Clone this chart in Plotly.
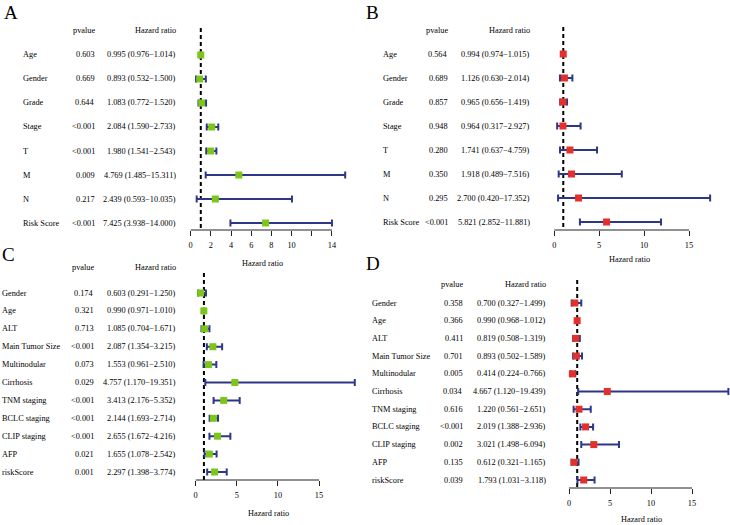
#!/usr/bin/env python3
"""
Forest plots of univariate / multivariate Cox regression (panels A-D).
"""

import plotly.graph_objects as go

# ---- Panel A: univariate, cohort 1 ----
a_labels = ['Age', 'Gender', 'Grade', 'Stage', 'T', 'M', 'N', 'Risk Score']
a_pvalue = ['0.603', '0.669', '0.644', '<0.001', '<0.001', '0.009', '0.217', '<0.001']
a_hr = [0.995, 0.893, 1.083, 2.084, 1.980, 4.769, 2.439, 7.425]
a_low = [0.976, 0.532, 0.772, 1.590, 1.541, 1.485, 0.593, 3.938]
a_high = [1.014, 1.500, 1.520, 2.733, 2.543, 15.311, 10.035, 14.000]
a_ticks = [0, 2, 4, 6, 8, 10, 12, 14]
a_ticktext = ['0', '2', '4', '6', '8', '10', '', '14']

# ---- Panel B: multivariate, cohort 1 ----
b_labels = ['Age', 'Gender', 'Grade', 'Stage', 'T', 'M', 'N', 'Risk Score']
b_pvalue = ['0.564', '0.689', '0.857', '0.948', '0.280', '0.350', '0.295', '<0.001']
b_hr = [0.994, 1.126, 0.965, 0.964, 1.741, 1.918, 2.700, 5.821]
b_low = [0.974, 0.630, 0.656, 0.317, 0.637, 0.489, 0.420, 2.852]
b_high = [1.015, 2.014, 1.419, 2.927, 4.759, 7.516, 17.352, 11.881]
b_ticks = [0, 5, 10, 15]

# ---- Panel C: univariate, cohort 2 ----
c_labels = ['Gender', 'Age', 'ALT', 'Main Tumor Size', 'Multinodular', 'Cirrhosis',
            'TNM staging', 'BCLC staging', 'CLIP staging', 'AFP', 'riskScore']
c_pvalue = ['0.174', '0.321', '0.713', '<0.001', '0.073', '0.029',
            '<0.001', '<0.001', '<0.001', '0.021', '0.001']
c_hr = [0.603, 0.990, 1.085, 2.087, 1.553, 4.757, 3.413, 2.144, 2.655, 1.655, 2.297]
c_low = [0.291, 0.971, 0.704, 1.354, 0.961, 1.170, 2.176, 1.693, 1.672, 1.078, 1.398]
c_high = [1.250, 1.010, 1.671, 3.215, 2.510, 19.351, 5.352, 2.714, 4.216, 2.542, 3.774]
c_ticks = [0, 5, 10, 15]

# ---- Panel D: multivariate, cohort 2 ----
d_labels = ['Gender', 'Age', 'ALT', 'Main Tumor Size', 'Multinodular', 'Cirrhosis',
            'TNM staging', 'BCLC staging', 'CLIP staging', 'AFP', 'riskScore']
d_pvalue = ['0.358', '0.366', '0.411', '0.701', '0.005', '0.034',
            '0.616', '<0.001', '0.002', '0.135', '0.039']
d_hr = [0.700, 0.990, 0.819, 0.893, 0.414, 4.667, 1.220, 2.019, 3.021, 0.612, 1.793]
d_low = [0.327, 0.968, 0.508, 0.502, 0.224, 1.120, 0.561, 1.388, 1.498, 0.321, 1.031]
d_high = [1.499, 1.012, 1.319, 1.589, 0.766, 19.439, 2.651, 2.936, 6.094, 1.165, 3.118]
d_ticks = [0, 5, 10, 15]

W, H = 730, 525
FONT = 'Liberation Serif, Times New Roman, serif'
FS = 8.3
NAVY = '#2E3786'
GREEN = '#7BC618'
RED = '#E3302A'


def xp(px):
    return px / W


def yp(py):
    return 1 - py / H


# layout geometry of every panel (pixels)
panels = [
    dict(letter='A', lx=2, ly=9, labels=a_labels, pv=a_pvalue, hr=a_hr, lo=a_low, hi=a_high,
         ticks=a_ticks, ticktext=a_ticktext, color=GREEN,
         label_x=21, pv_x=97, hrt_x=178, head_y=31, row0=55, step=24, axis_y=230,
         dash_top=28, x0=190.7, ppu=10.09, dom=(180, 360), title=(262, 263)),
    dict(letter='B', lx=364, ly=9, labels=b_labels, pv=b_pvalue, hr=b_hr, lo=b_low, hi=b_high,
         ticks=b_ticks, ticktext=None, color=RED,
         label_x=381, pv_x=450, hrt_x=532, head_y=31, row0=54, step=24, axis_y=230,
         dash_top=27, x0=554.3, ppu=8.98, dom=(545, 725), title=(629, 259)),
    dict(letter='C', lx=0, ly=254, labels=c_labels, pv=c_pvalue, hr=c_hr, lo=c_low, hi=c_high,
         ticks=c_ticks, ticktext=None, color=GREEN,
         label_x=0, pv_x=96, hrt_x=178, head_y=267, row0=293, step=17.9, axis_y=480,
         dash_top=273, x0=195.7, ppu=8.22, dom=(185, 365), title=(268, 513)),
    dict(letter='D', lx=364, ly=263, labels=d_labels, pv=d_pvalue, hr=d_hr, lo=d_low, hi=d_high,
         ticks=d_ticks, ticktext=None, color=RED,
         label_x=370, pv_x=465, hrt_x=548, head_y=284, row0=303, step=17.7, axis_y=488,
         dash_top=280, x0=569, ppu=8.2, dom=(560, 730), title=(641, 519)),
]

fig = go.Figure()
annotations = []
shapes = []


def text(x, y, s, anchor='left', yref='paper', size=FS, yanchor='middle'):
    annotations.append(dict(x=x, y=y, xref='paper', yref=yref, text=s, showarrow=False,
                            xanchor=anchor, yanchor=yanchor,
                            font=dict(family=FONT, size=size, color='black')))


for i, p in enumerate(panels, start=1):
    sfx = '' if i == 1 else str(i)
    n = len(p['labels'])
    rows = list(range(n))

    # pixel -> row-index mapping for y axis
    top_px = p['dash_top'] - 8
    k_bottom = (p['axis_y'] - p['row0']) / p['step']
    k_top = (top_px - p['row0']) / p['step']
    x_lo = (p['dom'][0] - p['x0']) / p['ppu']
    x_hi = (p['dom'][1] - p['x0']) / p['ppu']

    fig.add_trace(go.Scatter(
        x=p['hr'], y=rows, mode='markers',
        marker=dict(symbol='square', size=7, color=p['color']),
        error_x=dict(type='data', symmetric=False,
                     array=[h - m for h, m in zip(p['hi'], p['hr'])],
                     arrayminus=[m - l for m, l in zip(p['hr'], p['lo'])],
                     color=NAVY, thickness=2, width=3.5),
        xaxis='x' + sfx, yaxis='y' + sfx, showlegend=False, hoverinfo='skip'))

    fig.layout['xaxis' + sfx] = dict(
        domain=[xp(p['dom'][0]), xp(p['dom'][1])], range=[x_lo, x_hi],
        anchor='y' + sfx, showgrid=False, zeroline=False, showline=False,
        ticks='outside', ticklen=5, tickwidth=1, tickcolor='#222',
        tickvals=p['ticks'], ticktext=p['ticktext'] or [str(t) for t in p['ticks']],
        tickfont=dict(family=FONT, size=FS, color='black'), ticklabelstandoff=2)
    fig.layout['yaxis' + sfx] = dict(
        domain=[yp(p['axis_y']), yp(top_px)], range=[k_bottom, k_top],
        anchor='x' + sfx, visible=False)

    # axis line spanning only the tick range
    shapes.append(dict(type='line', xref='x' + sfx, yref='y' + sfx + ' domain',
                       x0=0, x1=p['ticks'][-1], y0=0, y1=0,
                       line=dict(color='#222', width=1)))
    # reference line at HR = 1
    shapes.append(dict(type='line', xref='x' + sfx, yref='y' + sfx,
                       x0=1, x1=1, y0=(p['dash_top'] - p['row0']) / p['step'], y1=k_bottom,
                       line=dict(color='black', width=2, dash='4px,3px'), layer='below'))

    # panel letter and column headers
    if p['ly'] < 15:
        text(xp(p['lx']), 1, p['letter'], size=19, yanchor='top')
    else:
        text(xp(p['lx']), yp(p['ly']), p['letter'], size=19)
    text(xp(p['pv_x']), yp(p['head_y']), 'pvalue', anchor='right')
    text(xp(p['hrt_x']), yp(p['head_y']), 'Hazard ratio', anchor='right')
    annotations.append(dict(x=xp(p['title'][0]), y=yp(p['title'][1]), xref='paper', yref='paper',
                            text='Hazard ratio', showarrow=False, xanchor='center', yanchor='middle',
                            font=dict(family=FONT, size=FS, color='black')))

    # table text for each row
    for k in rows:
        text(xp(p['label_x']), k, p['labels'][k], yref='y' + sfx)
        text(xp(p['pv_x']), k, p['pv'][k], anchor='right', yref='y' + sfx)
        hr_txt = f"{p['hr'][k]:.3f} ({p['lo'][k]:.3f}\u2212{p['hi'][k]:.3f})"
        text(xp(p['hrt_x']), k, hr_txt, anchor='right', yref='y' + sfx)

fig.update_layout(
    width=W, height=H, autosize=False,
    margin=dict(l=0, r=0, t=0, b=0),
    paper_bgcolor='white', plot_bgcolor='white',
    annotations=annotations, shapes=shapes,
)

# drop the default page margin so the figure starts at the window corner
fig.write_html("out.html", config={'displayModeBar': False},
               post_script="document.body.style.margin='0';")
